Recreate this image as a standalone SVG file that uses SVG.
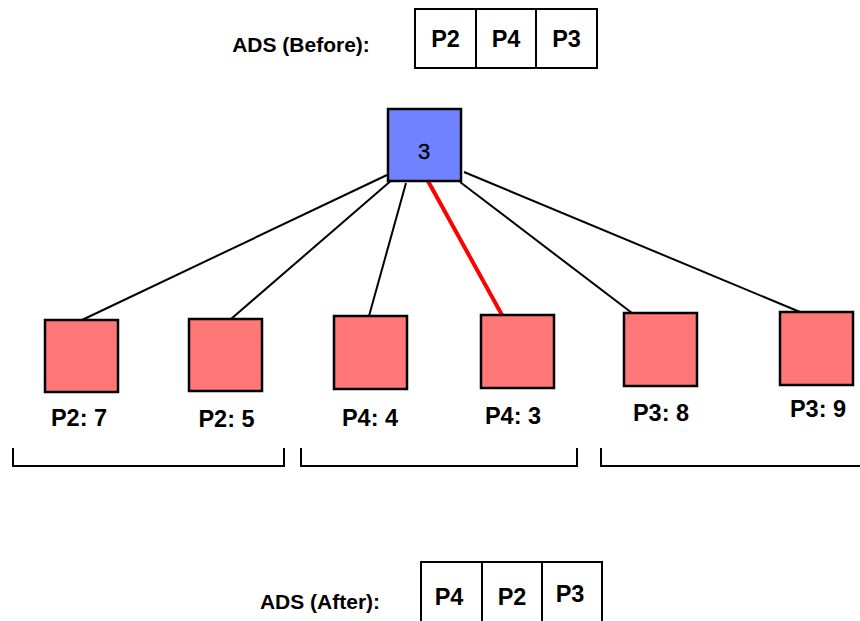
<svg xmlns="http://www.w3.org/2000/svg" width="860" height="621" viewBox="0 0 860 621">
<style>
.t{font-family:"Liberation Sans",Arial,sans-serif;font-weight:bold;font-size:23.5px;fill:#000;text-anchor:middle}
.lab{font-family:"Liberation Sans",Arial,sans-serif;font-weight:bold;font-size:21px;fill:#000;text-anchor:middle}
.cell{fill:#fff;stroke:#000;stroke-width:2}
.leaf{fill:#FF7777;stroke:#000;stroke-width:2.5}
.root{fill:#7182FF;stroke:#000;stroke-width:2.5}
.edge{stroke:#000;stroke-width:2;fill:none}
.hl{stroke:#FF0000;stroke-width:4;fill:none}
.br{stroke:#000;stroke-width:2;fill:none}
</style>
<rect width="860" height="621" fill="#fff"/>
<g id="ads-before">
<text class="lab" x="301" y="52">ADS (Before):</text>
<rect class="cell" x="415" y="9" width="61" height="59"/>
<rect class="cell" x="476" y="9" width="60" height="59"/>
<rect class="cell" x="536" y="9" width="61" height="59"/>
<text class="t" x="445.5" y="47">P2</text>
<text class="t" x="506" y="47">P4</text>
<text class="t" x="566.5" y="47">P3</text>
</g>
<g id="connectors">
<line class="edge" x1="387" y1="175" x2="82" y2="320"/>
<line class="edge" x1="393" y1="179" x2="231" y2="319"/>
<line class="edge" x1="406" y1="183" x2="369" y2="316"/>
<line class="hl" x1="428" y1="181" x2="502" y2="315"/>
<line class="edge" x1="460" y1="182" x2="632" y2="313"/>
<line class="edge" x1="464" y1="172" x2="800" y2="312"/>
</g>
<g id="root">
<rect class="root" x="388" y="109" width="73" height="72"/>
<text x="424" y="159" font-family="Liberation Sans, Arial, sans-serif" font-size="22" stroke="#000" stroke-width="0.4" text-anchor="middle">3</text>
</g>
<g id="leaf1">
<rect class="leaf" x="45" y="320" width="73" height="72"/>
<text class="t" x="79" y="426">P2: 7</text>
</g>
<g id="leaf2">
<rect class="leaf" x="189" y="319" width="73" height="72"/>
<text class="t" x="226.5" y="427">P2: 5</text>
</g>
<g id="leaf3">
<rect class="leaf" x="334" y="316" width="73" height="73"/>
<text class="t" x="370" y="426">P4: 4</text>
</g>
<g id="leaf4">
<rect class="leaf" x="481" y="315" width="73" height="73"/>
<text class="t" x="513" y="424">P4: 3</text>
</g>
<g id="leaf5">
<rect class="leaf" x="624" y="313" width="73" height="73"/>
<text class="t" x="661" y="421">P3: 8</text>
</g>
<g id="leaf6">
<rect class="leaf" x="780" y="312" width="73" height="73"/>
<text class="t" x="818" y="417">P3: 9</text>
</g>
<g id="brackets">
<path class="br" d="M13,448 V466 H284 V448"/>
<path class="br" d="M301,448 V466 H577 V448"/>
<path class="br" d="M601,448 V466 H862"/>
</g>
<g id="ads-after">
<text class="lab" x="320" y="609">ADS (After):</text>
<rect class="cell" x="421" y="562" width="61" height="70"/>
<rect class="cell" x="482" y="562" width="60" height="70"/>
<rect class="cell" x="542" y="562" width="60" height="70"/>
<text class="t" x="449" y="605">P4</text>
<text class="t" x="512" y="605">P2</text>
<text class="t" x="570" y="602">P3</text>
</g>
</svg>
